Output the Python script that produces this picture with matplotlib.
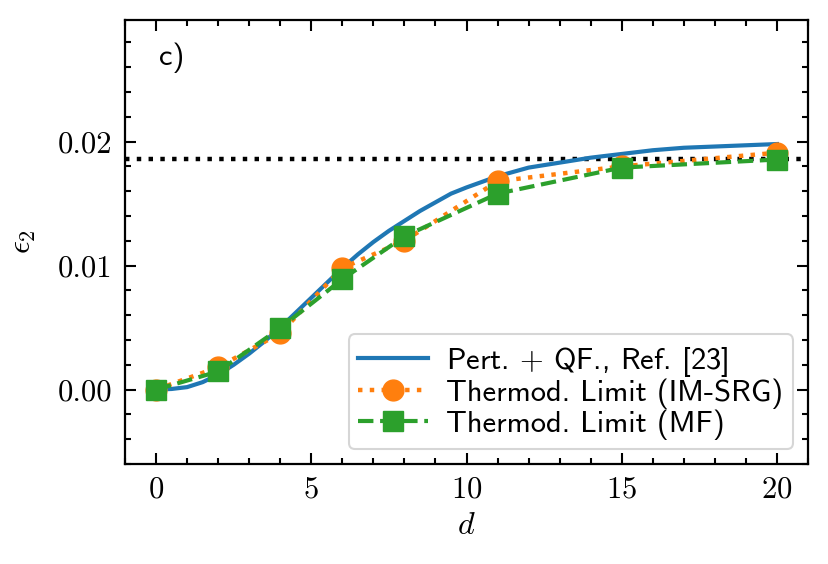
import numpy as np
import matplotlib
matplotlib.use('Agg')
import matplotlib.pyplot as plt
from matplotlib.ticker import MultipleLocator, FormatStrFormatter

plt.rcParams['font.family'] = 'serif'
plt.rcParams['font.serif'] = ['cmr10']
plt.rcParams['mathtext.fontset'] = 'cm'
plt.rcParams['axes.formatter.use_mathtext'] = True
plt.rcParams['axes.unicode_minus'] = False

# perturbative + QF curve
d_pert = [0, 0.5, 1, 1.5, 2, 2.5, 3, 3.5, 4, 4.5, 5, 5.5, 6, 6.5, 7, 7.5, 8, 8.5, 9, 9.5, 10,
          11, 12, 13, 14, 15, 16, 17, 18, 19, 20]
eps_pert = [0.0, 0.00005, 0.0002, 0.0006, 0.0012, 0.0020, 0.0029, 0.0039, 0.0050, 0.0062,
            0.0074, 0.0086, 0.0098, 0.0109, 0.0119, 0.0128, 0.0136, 0.0144, 0.0151, 0.0158,
            0.0163, 0.0172, 0.0179, 0.0183, 0.0187, 0.0190, 0.0193, 0.0195, 0.0196, 0.0197,
            0.0198]

# thermodynamic limit points
d_pts = [0, 2, 4, 6, 8, 11, 15, 20]
eps_imsrg = [0.0, 0.0018, 0.00455, 0.0098, 0.0120, 0.0168, 0.0180, 0.0191]
eps_mf = [0.0, 0.00146, 0.00496, 0.0089, 0.01236, 0.0158, 0.0179, 0.01855]

eps_ref = 0.01862  # horizontal dotted reference

fig = plt.figure(figsize=(8.29, 5.64), dpi=100)
ax = fig.add_axes([0.1508, 0.1773, 0.8239, 0.7872])

ax.axhline(eps_ref, color='k', ls=':', lw=3.2)
ax.plot(d_pert, eps_pert, color='#1f77b4', lw=3.0, label=r'Pert. $+$ QF., Ref. [23]')
ax.plot(d_pts, eps_imsrg, color='#ff7f0e', ls=':', lw=3.2, marker='o', ms=15,
        label='Thermod. Limit (IM-SRG)')
ax.plot(d_pts, eps_mf, color='#2ca02c', ls='--', lw=3.0, marker='s', ms=15,
        label='Thermod. Limit (MF)')

ax.set_xlim(-1, 21)
ax.set_ylim(-0.006, 0.0298)
ax.xaxis.set_major_locator(MultipleLocator(5))
ax.xaxis.set_minor_locator(MultipleLocator(1))
ax.yaxis.set_major_locator(MultipleLocator(0.01))
ax.yaxis.set_minor_locator(MultipleLocator(0.002))
ax.yaxis.set_major_formatter(FormatStrFormatter('%.2f'))
ax.tick_params(which='both', direction='in', top=True, right=True, labelsize=22, width=1.5)
ax.tick_params(which='major', length=8, pad=9)
ax.tick_params(which='minor', length=4.5)
for sp in ax.spines.values():
    sp.set_linewidth(1.6)

ax.set_xlabel('$d$', fontsize=23, labelpad=6)
ax.set_ylabel(r'$\epsilon_2$', fontsize=23, labelpad=14)

ax.text(0.05, 0.915, 'c)', transform=ax.transAxes, fontsize=22, family='cmss10',
        va='center', ha='left')

leg = ax.legend(loc='lower right', prop={'family': 'cmss10', 'size': 22},
                handlelength=2.3, borderpad=0.3, labelspacing=0.0, handletextpad=0.6,
                borderaxespad=0.5, fancybox=True, framealpha=0.8)
leg.get_frame().set_linewidth(1.5)

fig.savefig('out.png', dpi=100)
